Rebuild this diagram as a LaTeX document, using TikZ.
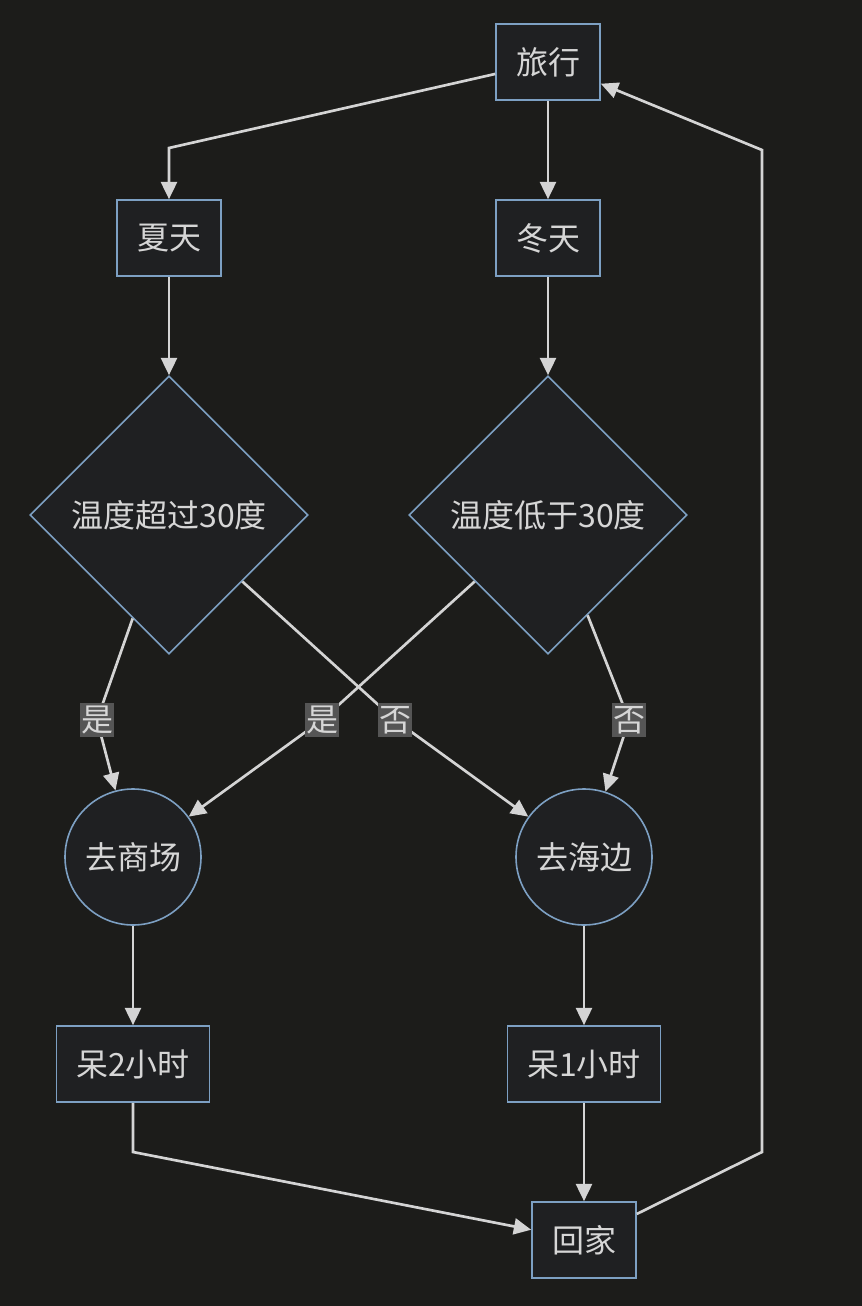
\documentclass[tikz,border=0pt]{standalone}
\usepackage{fontspec}
\setmainfont{Noto Sans CJK SC}
\usetikzlibrary{shapes.geometric,arrows.meta}
\definecolor{bgc}{RGB}{28,28,26}
\definecolor{nodefill}{RGB}{31,32,34}
\definecolor{nodeborder}{RGB}{125,160,195}
\definecolor{linec}{RGB}{212,212,212}
\definecolor{textc}{RGB}{214,214,214}
\definecolor{labelbg}{RGB}{85,85,85}
\tikzset{
  base/.style={draw=nodeborder, fill=nodefill, line width=1.2pt, text=textc,
    font=\fontsize{24}{28}\selectfont, inner sep=0pt},
  box/.style={base, rectangle, minimum height=57pt},
  decision/.style={base, diamond, aspect=1, minimum width=208.5pt, minimum height=208.5pt},
  roundnode/.style={base, circle, minimum size=102pt},
  edge/.style={draw=linec, line width=2pt, -{Triangle[length=13pt,width=12pt]}},
  elabel/.style={fill=labelbg, text=textc, font=\fontsize{24}{28}\selectfont,
    inner xsep=1pt, inner ysep=2.5pt}
}
\begin{document}
\begin{tikzpicture}[x=0.75pt,y=-0.75pt]
\useasboundingbox[fill=bgc] (0,0) rectangle (862,1306);
% nodes
\node[box, minimum width=78pt] (trip) at (548,62) {旅行};
\node[box, minimum width=78pt] (summer) at (169,238) {夏天};
\node[box, minimum width=78pt] (winter) at (548,238) {冬天};
\node[decision] (d1) at (169,515) {温度超过30度};
\node[decision] (d2) at (548,515) {温度低于30度};
\node[roundnode] (mall) at (133,857) {去商场};
\node[roundnode] (beach) at (584,857) {去海边};
\node[box, minimum width=114.75pt] (s2) at (133,1064) {呆2小时};
\node[box, minimum width=114.75pt] (s1) at (584,1064) {呆1小时};
\node[box, minimum width=78pt] (home) at (584,1240) {回家};
% waypoints
\coordinate (k1) at (169,148);
\coordinate (k2) at (762,1152);
\coordinate (k3) at (762,150);
\coordinate (k4) at (133,1152);
\coordinate (l1) at (97,720);
\coordinate (l2) at (395,720);
\coordinate (l3) at (322,720);
\coordinate (l4) at (629,720);
% edges
\draw[edge] (trip) -- (k1) -- (summer);
\draw[edge] (trip) -- (winter);
\draw[edge] (summer) -- (d1);
\draw[edge] (winter) -- (d2);
\draw[edge] (d1) -- (l1) -- (mall);
\draw[edge] (d1) -- (l2) -- (beach);
\draw[edge] (d2) -- (l3) -- (mall);
\draw[edge] (d2) -- (l4) -- (beach);
\draw[edge] (mall) -- (s2);
\draw[edge] (beach) -- (s1);
\draw[edge] (s2) -- (k4) -- (home);
\draw[edge] (s1) -- (home);
\draw[edge] (home) -- (k2) -- (k3) -- (trip);
% edge labels
\node[elabel] (t1) at (l1) {是};
\node[elabel] (t2) at (l2) {否};
\node[elabel] (t3) at (l3) {是};
\node[elabel] (t4) at (l4) {否};
\end{tikzpicture}
\end{document}
